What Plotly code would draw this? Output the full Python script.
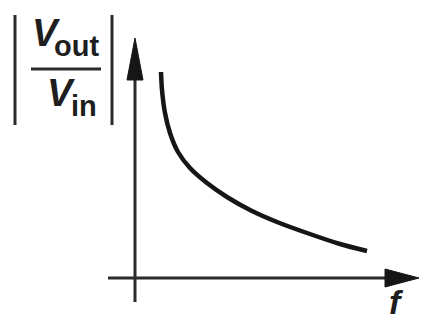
import plotly.graph_objects as go

# Frequency response |Vout/Vin| versus f (arbitrary units, origin at axis crossing)
f_vals = [26, 27, 30, 35, 43, 55, 72, 92, 115, 142, 172, 205, 232]
gain_vals = [206, 188, 165, 145, 126, 110, 95, 81, 68, 56, 45, 34, 27]

W, H = 422, 325
X0, Y0 = 135, 278          # canvas position of the axis origin
XR = [-X0, W - X0]
YR = [Y0 - H, Y0]


def cx(px):
    return px - X0


def cy(py):
    return Y0 - py


AX = "#2b2b2b"
INK = "#161616"

fig = go.Figure()
fig.add_trace(go.Scatter(
    x=f_vals, y=gain_vals, mode="lines",
    line=dict(color=INK, width=4.5, shape="spline", smoothing=0.8),
    hoverinfo="skip", showlegend=False,
))

shapes = []
# vertical axis with arrow
shapes.append(dict(type="line", x0=0, x1=0, y0=cy(302), y1=cy(76),
                   line=dict(color=AX, width=3)))
shapes.append(dict(type="path",
                   path=f"M {cx(127)},{cy(80)} L {cx(135)},{cy(38)} L {cx(143)},{cy(80)} Z",
                   fillcolor=INK, line=dict(color=INK, width=1)))
# horizontal axis with arrow
shapes.append(dict(type="line", x0=cx(108), x1=cx(388), y0=0, y1=0,
                   line=dict(color=AX, width=3)))
shapes.append(dict(type="path",
                   path=f"M {cx(385)},{cy(269)} L {cx(419)},{cy(278)} L {cx(385)},{cy(287)} Z",
                   fillcolor=INK, line=dict(color=INK, width=1)))
# magnitude bars and fraction line of the y label
for bx in (15, 112):
    shapes.append(dict(type="line", x0=cx(bx), x1=cx(bx), y0=cy(15), y1=cy(125),
                       line=dict(color=AX, width=3)))
shapes.append(dict(type="line", x0=cx(31), x1=cx(101), y0=cy(69), y1=cy(69),
                   line=dict(color=AX, width=3)))

FONT = "Liberation Sans"


def label(text, px, py, size, xanchor="left", yanchor="bottom"):
    return dict(text=text, x=cx(px), y=cy(py), xref="x", yref="y",
                showarrow=False, xanchor=xanchor, yanchor=yanchor,
                font=dict(family=FONT, size=size, color="#1e1e1e"))


annotations = [
    label("<b><i>V</i></b>", 30, 56, 38),
    label("<b>out</b>", 52, 64, 29),
    label("<b><i>V</i></b>", 45, 116, 38),
    label("<b>in</b>", 69, 124, 29),
    label("<b><i>f</i></b>", 396, 302, 34, xanchor="center", yanchor="middle"),
]

fig.update_layout(
    width=W, height=H,
    margin=dict(l=0, r=0, t=0, b=0),
    paper_bgcolor="white", plot_bgcolor="white",
    xaxis=dict(range=XR, visible=False, fixedrange=True),
    yaxis=dict(range=YR, visible=False, fixedrange=True),
    shapes=shapes, annotations=annotations,
)

fig.write_html("out.html")
